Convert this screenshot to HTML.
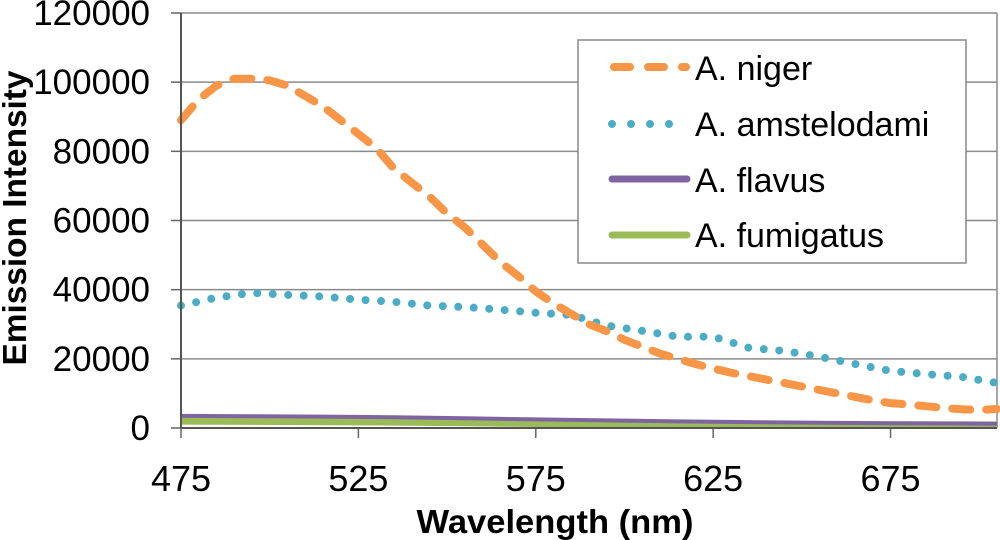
<!DOCTYPE html>
<html><head><meta charset="utf-8">
<style>html,body{margin:0;padding:0;background:#fff}svg{display:block}text{font-family:"Liberation Sans",Arial,sans-serif;fill:#000}</style>
</head><body>
<svg id="chart" width="1000" height="540" xmlns="http://www.w3.org/2000/svg">
<g id="grid"></g>
<g id="series"></g>
<g id="axes"></g>
<text transform="translate(26,218) rotate(-90)" text-anchor="middle" font-size="33" font-weight="bold" textLength="295" lengthAdjust="spacingAndGlyphs">Emission Intensity</text>
<text x="555" y="533" text-anchor="middle" font-size="33" font-weight="bold" textLength="277" lengthAdjust="spacingAndGlyphs">Wavelength (nm)</text>
<g>
<rect x="578" y="40" width="388" height="223" fill="#fff" stroke="#888" stroke-width="1.5"/>
<line x1="614" y1="67" x2="686" y2="67" stroke="#f79646" stroke-width="8" stroke-linecap="round" stroke-dasharray="16 18"/>
<text x="695" y="80" font-size="34">A. niger</text>
<line x1="612" y1="124" x2="688" y2="124" stroke="#4bacc6" stroke-width="8" stroke-linecap="round" stroke-dasharray="0 19"/>
<text x="695" y="136" font-size="34">A. amstelodami</text>
<line x1="612" y1="179" x2="687" y2="179" stroke="#8064a2" stroke-width="7" stroke-linecap="round"/>
<text x="695" y="192" font-size="34">A. flavus</text>
<line x1="612" y1="235" x2="687" y2="235" stroke="#9bbb59" stroke-width="7" stroke-linecap="round"/>
<text x="695" y="247" font-size="34">A. fumigatus</text>
</g>
</svg>
<script>
const wavelengths=[475,480,485,490,495,500,505,510,515,520,525,530,535,540,545,550,555,560,565,570,575,580,585,590,595,600,605,610,615,620,625,630,635,640,645,650,655,660,665,670,675,680,685,690,695,700,705];
const niger=[89000,95000,99000,101000,101000,100500,99000,96000,93000,89000,85000,81000,75000,71000,67000,62000,58000,53000,48000,44000,39500,36000,33000,30000,28000,25500,23500,21500,20000,18500,17200,16000,15000,14000,13000,12000,11000,10000,9000,8000,7200,6800,6300,5800,5400,5200,5500];
const amWl=[475,485,495,505,515,525,535,545,555,565,575,585,595,605,615,625,635,645,655,665,675,685,695,705];
const amstelodami=[35400,37700,39100,38500,38000,37100,36500,35400,35000,34200,33300,32700,29600,28100,26400,26400,23200,22300,20600,18500,16500,15600,14800,13000];
const solidWl=[475,495,515,535,555,575,595,615,635,655,675,695,705];
const flavus=[3500,3400,3300,3100,2800,2500,2200,1900,1700,1500,1400,1300,1200];
const fumigatus=[2000,1900,1800,1700,1500,1300,1200,1100,1000,950,900,900,900];
const yTicks=[0,20000,40000,60000,80000,100000,120000];
const xTicks=[475,525,575,625,675];
const X0=181,X1=997,Y0=428,Y1=13,XMIN=475,XMAX=705,YMAX=120000;
const sx=v=>X0+(v-XMIN)/(XMAX-XMIN)*(X1-X0);
const sy=v=>Y0-v/YMAX*(Y0-Y1);
const NS='http://www.w3.org/2000/svg';
function mk(tag,attrs,parent){const e=document.createElementNS(NS,tag);for(const k in attrs)e.setAttribute(k,attrs[k]);parent.appendChild(e);return e;}
const grid=document.getElementById('grid'),axes=document.getElementById('axes'),ser=document.getElementById('series');
yTicks.forEach(t=>{
 if(t>0){const g=mk('line',{x1:X0,x2:X1,y1:sy(t),y2:sy(t),stroke:'#8a8a8a','stroke-width':1.5},grid);
 
 }
 const tk=mk('line',{x1:171,x2:X0,y1:sy(t),y2:sy(t),stroke:'#666','stroke-width':1.5},axes);
 
 
 const lb=mk('text',{x:150,y:sy(t)+12,'text-anchor':'end','font-size':35},axes);
 lb.textContent=t;
 
 
});
const rb=mk('line',{x1:X1,x2:X1,y1:Y1,y2:Y0,stroke:'#8a8a8a','stroke-width':1.5},grid);


xTicks.forEach(t=>{
 const tk=mk('line',{x1:sx(t),x2:sx(t),y1:Y0,y2:438,stroke:'#666','stroke-width':1.5},axes);
 
 
 const lb=mk('text',{x:sx(t),y:491,'text-anchor':'middle','font-size':36},axes);
 lb.textContent=t;
 
 
});
const ya=mk('line',{x1:X0,x2:X0,y1:Y1,y2:Y0,stroke:'#555','stroke-width':2},axes);


const xa=mk('line',{x1:X0,x2:X1,y1:Y0,y2:Y0,stroke:'#555','stroke-width':2},axes);


function pts(xs,ys){return xs.map((x,i)=>sx(x).toFixed(1)+','+sy(ys[i]).toFixed(1)).join(' ');}
const pf=mk('polyline',{points:pts(solidWl,fumigatus),fill:'none',stroke:'#9bbb59','stroke-width':7,'stroke-linejoin':'round'},ser);


const pl=mk('polyline',{points:pts(solidWl,flavus),fill:'none',stroke:'#8064a2','stroke-width':4,'stroke-linejoin':'round'},ser);


const pa=mk('polyline',{points:pts(amWl,amstelodami),fill:'none',stroke:'#4bacc6','stroke-width':8,'stroke-linecap':'round','stroke-dasharray':'0 15.5'},ser);


const pn=mk('polyline',{points:pts(wavelengths,niger),fill:'none',stroke:'#f79646','stroke-width':8,'stroke-linecap':'round','stroke-linejoin':'round','stroke-dasharray':'18 16'},ser);


</script>
</body></html>
